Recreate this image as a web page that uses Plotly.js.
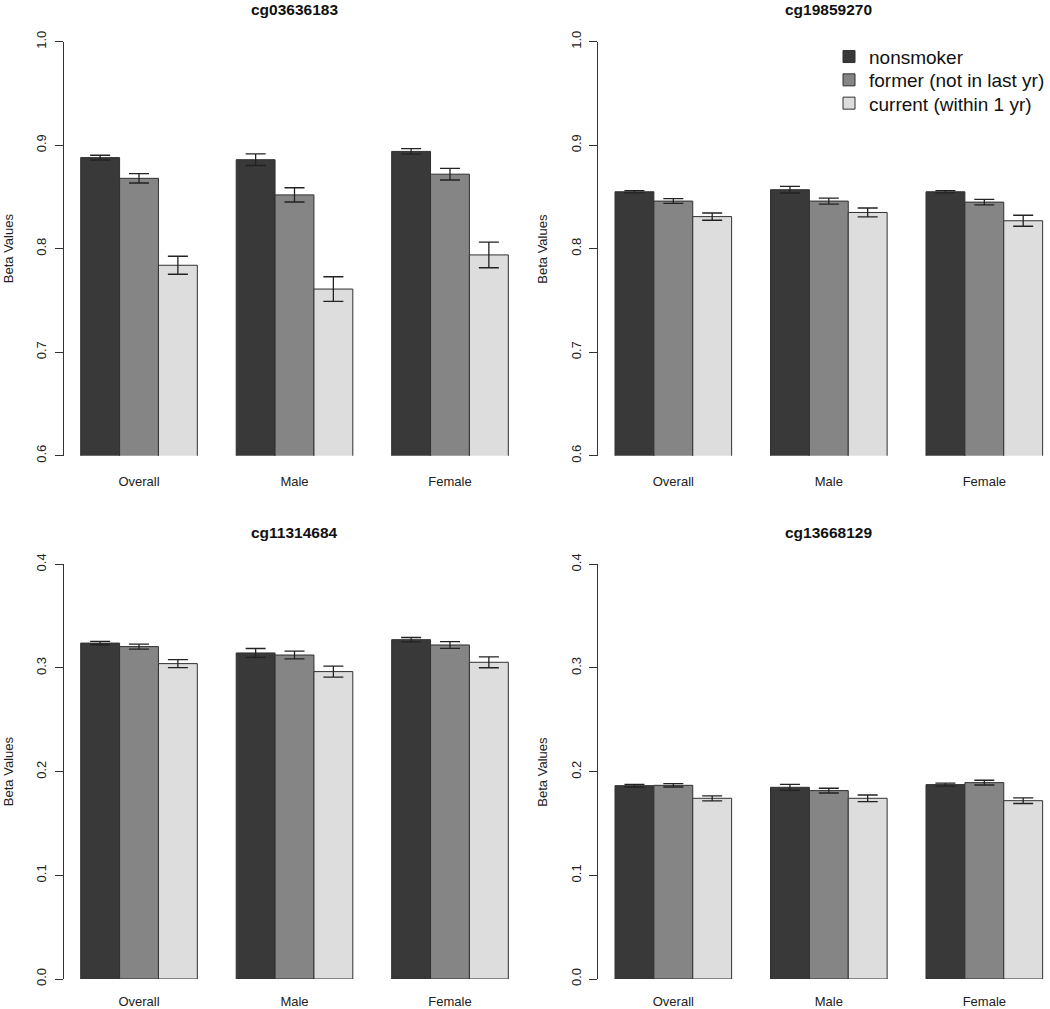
<!DOCTYPE html>
<html>
<head>
<meta charset="utf-8">
<script src="https://cdn.plot.ly/plotly-3.0.1.min.js"></script>
<style>
  html, body { margin: 0; padding: 0; background: #ffffff; }
  #chart { width: 1050px; height: 1009px; }
</style>
</head>
<body>
<div id="chart"></div>
<script>
// ---------- DATA ----------
const categories = ['Overall', 'Male', 'Female'];
const groupNames = ['nonsmoker', 'former (not in last yr)', 'current (within 1 yr)'];
const probes = ['cg03636183', 'cg19859270', 'cg11314684', 'cg13668129'];
const yTitle = 'Beta Values';

// cg03636183
const cg03636183_nonsmoker = [0.888, 0.886, 0.894];
const cg03636183_former    = [0.868, 0.852, 0.872];
const cg03636183_current   = [0.784, 0.761, 0.794];
const cg03636183_nonsmoker_err = [0.0023, 0.0056, 0.0026];
const cg03636183_former_err    = [0.0045, 0.0069, 0.0056];
const cg03636183_current_err   = [0.0087, 0.0119, 0.0124];

// cg19859270
const cg19859270_nonsmoker = [0.855, 0.857, 0.855];
const cg19859270_former    = [0.846, 0.846, 0.845];
const cg19859270_current   = [0.831, 0.835, 0.827];
const cg19859270_nonsmoker_err = [0.0011, 0.0032, 0.0011];
const cg19859270_former_err    = [0.0023, 0.0029, 0.0027];
const cg19859270_current_err   = [0.0035, 0.0043, 0.0053];

// cg11314684
const cg11314684_nonsmoker = [0.324, 0.3145, 0.3273];
const cg11314684_former    = [0.3206, 0.3125, 0.3222];
const cg11314684_current   = [0.3042, 0.2965, 0.3055];
const cg11314684_nonsmoker_err = [0.0016, 0.0043, 0.0021];
const cg11314684_former_err    = [0.0024, 0.0037, 0.0032];
const cg11314684_current_err   = [0.0039, 0.0053, 0.0053];

// cg13668129
const cg13668129_nonsmoker = [0.1865, 0.1849, 0.1875];
const cg13668129_former    = [0.1868, 0.1817, 0.1894];
const cg13668129_current   = [0.1743, 0.1743, 0.1720];
const cg13668129_nonsmoker_err = [0.0013, 0.0029, 0.0014];
const cg13668129_former_err    = [0.0016, 0.0023, 0.0023];
const cg13668129_current_err   = [0.0024, 0.0032, 0.0027];

const yRanges = [[0.6, 1.0], [0.6, 1.0], [0.0, 0.4], [0.0, 0.4]];

// ---------- STYLE ----------
const FONT = 'Liberation Sans, Arial, Helvetica, sans-serif';
const fills = ['#393939', '#858585', '#dddddd'];
const edge = '#303030';
const ink = '#222222';

const panelValues = [
  [cg03636183_nonsmoker, cg03636183_former, cg03636183_current],
  [cg19859270_nonsmoker, cg19859270_former, cg19859270_current],
  [cg11314684_nonsmoker, cg11314684_former, cg11314684_current],
  [cg13668129_nonsmoker, cg13668129_former, cg13668129_current]
];
const panelErrors = [
  [cg03636183_nonsmoker_err, cg03636183_former_err, cg03636183_current_err],
  [cg19859270_nonsmoker_err, cg19859270_former_err, cg19859270_current_err],
  [cg11314684_nonsmoker_err, cg11314684_former_err, cg11314684_current_err],
  [cg13668129_nonsmoker_err, cg13668129_former_err, cg13668129_current_err]
];

const W = 1050, H = 1009;
// panel geometry in pixels
const xDomPx = [[63.6, 525.4], [597.9, 1050], [63.6, 525.4], [597.9, 1050]];
const xRanges = [[-0.485, 2.485], [-0.485, -0.485 + (1050 - 597.9) / 155.5],
                 [-0.485, 2.485], [-0.485, -0.485 + (1050 - 597.9) / 155.5]];
const yDomPx = [[41.7, 455.7], [41.7, 455.7], [564.3, 979], [564.3, 979]];
const xLabelStandoff = [16, 16, 13, 13];
const titleX = [294.5, 828.8, 294.5, 828.8];
const titleY = [9.5, 9.5, 532, 532];
const yTitleX = [8.5, 543, 8.5, 543];

const legendNames = ['legend', 'legend2', 'legend3'];
const legendRowY = [56.7, 80, 103.3];

const traces = [];
const layout = {
  width: W, height: H,
  margin: {l: 0, r: 0, t: 0, b: 0},
  paper_bgcolor: '#ffffff',
  plot_bgcolor: 'rgba(0,0,0,0)',
  barmode: 'group',
  bargap: 0.25,
  bargroupgap: 0,
  font: {family: FONT, size: 13, color: ink},
  annotations: [],
  showlegend: true
};

for (let p = 0; p < 4; p++) {
  const ax = p === 0 ? '' : String(p + 1);
  for (let g = 0; g < 3; g++) {
    const t = {
      type: 'bar',
      name: groupNames[g],
      x: categories,
      y: panelValues[p][g],
      xaxis: 'x' + ax,
      yaxis: 'y' + ax,
      marker: {color: fills[g], line: {color: edge, width: 1}},
      error_y: {type: 'data', array: panelErrors[p][g], visible: true,
                color: ink, thickness: 1.3, width: 10},
      showlegend: p === 1,
      hoverinfo: 'x+y+name'
    };
    if (p === 1) t.legend = legendNames[g];
    traces.push(t);
  }
  layout['xaxis' + ax] = {
    domain: [xDomPx[p][0] / W, xDomPx[p][1] / W],
    range: xRanges[p],
    anchor: 'y' + ax,
    type: 'category',
    showline: false, showgrid: false, zeroline: false,
    ticks: '', ticklabelstandoff: xLabelStandoff[p],
    tickfont: {family: FONT, size: 13, color: ink},
    fixedrange: true
  };
  layout['yaxis' + ax] = {
    domain: [(H - yDomPx[p][1]) / H, (H - yDomPx[p][0]) / H],
    range: yRanges[p],
    anchor: 'x' + ax,
    showline: true, linecolor: '#333333', linewidth: 1,
    showgrid: false, zeroline: false,
    ticks: 'outside', ticklen: 8, tickwidth: 1, tickcolor: '#333333',
    dtick: 0.1, tick0: 0, tickformat: '.1f',
    tickangle: -90, ticklabelstandoff: 3,
    tickfont: {family: FONT, size: 13, color: ink},
    fixedrange: true
  };
  layout.annotations.push({
    text: '<b>' + probes[p] + '</b>',
    xref: 'paper', yref: 'paper',
    x: titleX[p] / W, y: (H - titleY[p]) / H,
    xanchor: 'center', yanchor: 'middle',
    showarrow: false,
    font: {family: FONT, size: 15.5, color: '#111111'}
  });
  layout.annotations.push({
    text: yTitle,
    xref: 'paper', yref: 'paper',
    x: yTitleX[p] / W, y: (H - (yDomPx[p][0] + yDomPx[p][1]) / 2) / H,
    xanchor: 'center', yanchor: 'middle',
    textangle: -90,
    showarrow: false,
    font: {family: FONT, size: 13, color: ink}
  });
}

for (let g = 0; g < 3; g++) {
  layout[legendNames[g]] = {
    x: 829 / W, xanchor: 'left',
    y: (H - legendRowY[g]) / H, yanchor: 'middle',
    bgcolor: 'rgba(0,0,0,0)', borderwidth: 0,
    font: {family: FONT, size: 19, color: '#111111'},
    itemclick: false, itemdoubleclick: false
  };
}

Plotly.newPlot('chart', traces, layout, {displayModeBar: false, staticPlot: true});
</script>
</body>
</html>
